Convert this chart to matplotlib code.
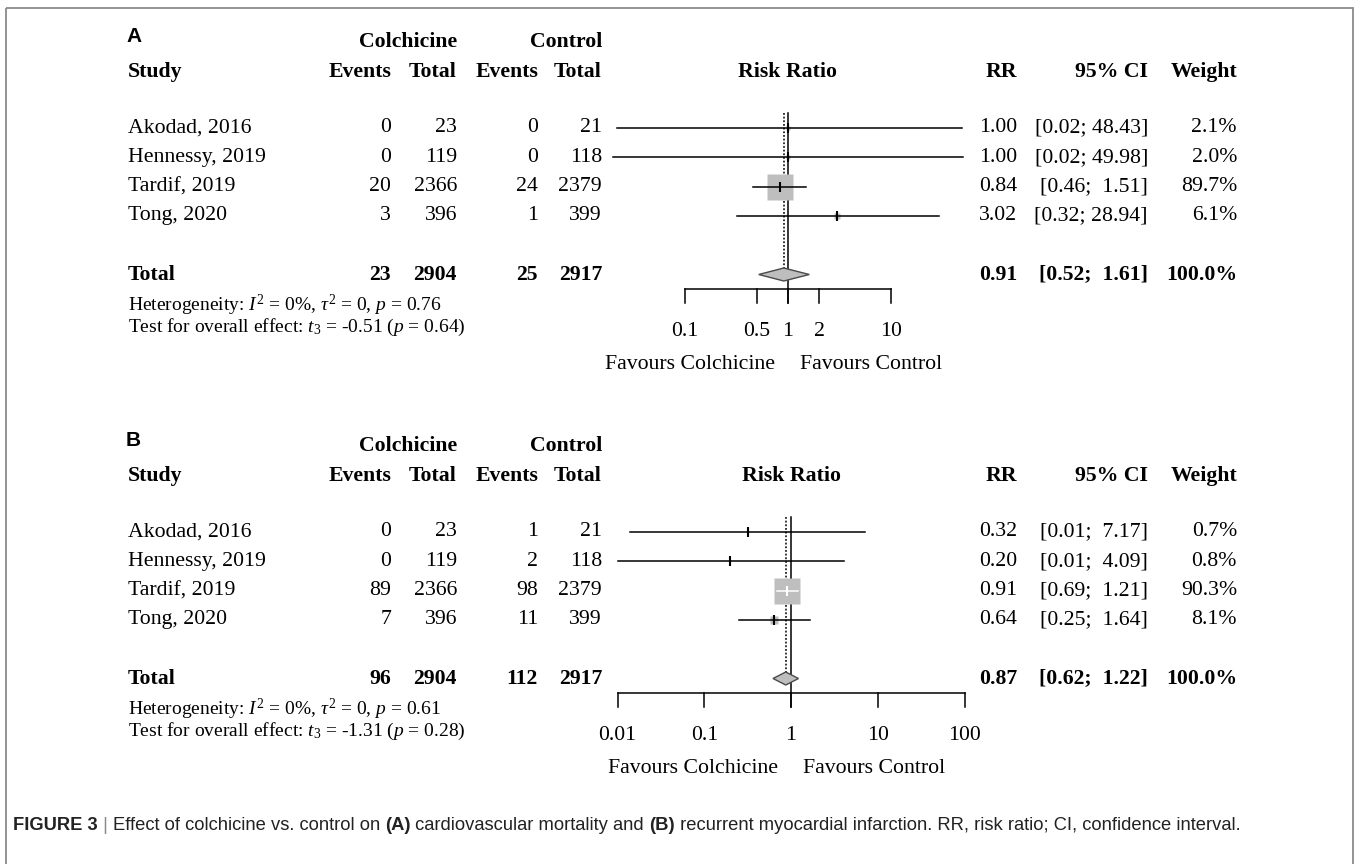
import numpy as np
import matplotlib
matplotlib.use('Agg')
import matplotlib.pyplot as plt
from matplotlib.patches import Rectangle

W, H = 1357, 864

# ---- data ----
studies = ['Akodad, 2016', 'Hennessy, 2019', 'Tardif, 2019', 'Tong, 2020']
n_colch = [23, 119, 2366, 396]
n_ctrl = [21, 118, 2379, 399]

# (A) cardiovascular mortality
a_ev_colch = [0, 0, 20, 3]
a_ev_ctrl = [0, 0, 24, 1]
a_rr = [1.00, 1.00, 0.84, 3.02]
a_lo = [0.022, 0.02, 0.46, 0.32]
a_hi = [48.43, 49.98, 1.51, 28.94]
a_weight = [2.1, 2.0, 89.7, 6.1]
a_total = [23, 2904, 25, 2917]
a_pooled = [0.91, 0.52, 1.61]
a_het = r'Heterogeneity: $I^2$ = 0%, $\tau^2$ = 0, $p$ = 0.76'
a_test = r'Test for overall effect: $t_3$ = -0.51 ($p$ = 0.64)'
a_ticks = [0.1, 0.5, 1, 2, 10]
a_ticklabels = ['0.1', '0.5', '1', '2', '10']

# (B) recurrent myocardial infarction
b_ev_colch = [0, 0, 89, 7]
b_ev_ctrl = [1, 2, 98, 11]
b_rr = [0.32, 0.20, 0.91, 0.64]
b_lo = [0.014, 0.01, 0.69, 0.25]
b_hi = [7.17, 4.09, 1.21, 1.64]
b_weight = [0.7, 0.8, 90.3, 8.1]
b_total = [96, 2904, 112, 2917]
b_pooled = [0.87, 0.62, 1.22]
b_het = r'Heterogeneity: $I^2$ = 0%, $\tau^2$ = 0, $p$ = 0.61'
b_test = r'Test for overall effect: $t_3$ = -1.31 ($p$ = 0.28)'
b_ticks = [0.01, 0.1, 1, 10, 100]
b_ticklabels = ['0.01', '0.1', '1', '10', '100']

caption = [('FIGURE 3', True), (' | ', False),
           ('Effect of colchicine vs. control on ', False), ('(A)', True),
           (' cardiovascular mortality and ', False), ('(B)', True),
           (' recurrent myocardial infarction. RR, risk ratio; CI, confidence interval.', False)]

# ---- style ----
plt.rcParams['font.family'] = ['Liberation Serif', 'DejaVu Serif']
plt.rcParams['mathtext.fontset'] = 'custom'
plt.rcParams['mathtext.rm'] = 'Liberation Serif'
plt.rcParams['mathtext.it'] = 'Liberation Serif:italic'
FS = 15.7
FS_SMALL = 14
GREY = '#BEBEBE'

fig = plt.figure(figsize=(W / 100, H / 100), dpi=100)
bg = fig.add_axes([0, 0, 1, 1])
bg.set_xlim(0, W)
bg.set_ylim(H, 0)
bg.axis('off')
bg.add_patch(Rectangle((6, 8), 1347, 880, fill=False, edgecolor='#8a8a8a', lw=1.3))

COL_X = {'study': 128, 'ev1': 391, 'n1': 457, 'ev2': 538, 'n2': 602,
         'rr': 1017, 'ci': 1148, 'w': 1237}


def txt(x, y, s, ha='left', bold=False, size=FS, **kw):
    bg.text(x, y, s, ha=ha, va='center', fontsize=size,
            fontweight='bold' if bold else 'normal', **kw)


def draw_panel(label, row0, ev_c, ev_t, rr, lo, hi, weight, total, pooled,
               het, test, ticks, ticklabels, one_px, dec_px):
    step = 29.3
    rows = [row0 + i * step for i in range(len(studies))]
    total_y = rows[-1] + 2 * step
    head_y = row0 - 86
    study_y = row0 - 56
    axis_y = total_y + 14
    tick_end = axis_y + 14
    tick_y = axis_y + 43
    fav_y = axis_y + 76

    # headers
    bg.text(COL_X['study'] - 2, head_y - 5, label, ha='left', va='center',
            fontsize=15, fontweight='bold', family='Liberation Sans')
    txt(COL_X['n1'], head_y, 'Colchicine', 'right', True)
    txt(COL_X['n2'], head_y, 'Control', 'right', True)
    txt(COL_X['study'], study_y, 'Study', bold=True)
    txt(COL_X['ev1'], study_y, 'Events', 'right', True)
    txt(COL_X['n1'], study_y, 'Total', 'right', True)
    txt(COL_X['ev2'], study_y, 'Events', 'right', True)
    txt(COL_X['n2'], study_y, 'Total', 'right', True)
    txt(one_px, study_y, 'Risk Ratio', 'center', True)
    txt(COL_X['rr'], study_y, 'RR', 'right', True)
    txt(COL_X['ci'], study_y, '95% CI', 'right', True)
    txt(COL_X['w'], study_y, 'Weight', 'right', True)

    for i, y in enumerate(rows):
        txt(COL_X['study'], y, studies[i])
        txt(COL_X['ev1'], y, str(ev_c[i]), 'right')
        txt(COL_X['n1'], y, str(n_colch[i]), 'right')
        txt(COL_X['ev2'], y, str(ev_t[i]), 'right')
        txt(COL_X['n2'], y, str(n_ctrl[i]), 'right')
        txt(COL_X['rr'], y, f'{rr[i]:.2f}', 'right')
        sep = ';  ' if hi[i] < 10 else '; '
        txt(COL_X['ci'], y, f'[{lo[i]:.2f}{sep}{hi[i]:.2f}]', 'right')
        txt(COL_X['w'], y, f'{weight[i]:.1f}%', 'right')

    txt(COL_X['study'], total_y, 'Total', bold=True)
    txt(COL_X['ev1'], total_y, str(total[0]), 'right', True)
    txt(COL_X['n1'], total_y, str(total[1]), 'right', True)
    txt(COL_X['ev2'], total_y, str(total[2]), 'right', True)
    txt(COL_X['n2'], total_y, str(total[3]), 'right', True)
    txt(COL_X['rr'], total_y, f'{pooled[0]:.2f}', 'right', True)
    txt(COL_X['ci'], total_y, f'[{pooled[1]:.2f};  {pooled[2]:.2f}]', 'right', True)
    txt(COL_X['w'], total_y, '100.0%', 'right', True)
    txt(COL_X['study'], total_y + 31, het, size=FS_SMALL)
    txt(COL_X['study'], total_y + 53, test, size=FS_SMALL)

    # forest axes, y in pixel units
    x0, x1 = 600, 980
    y_top, y_bot = row0 - 25, fav_y + 15
    ax = fig.add_axes([x0 / W, 1 - y_bot / H, (x1 - x0) / W, (y_bot - y_top) / H])
    ax.set_xscale('log')
    ax.set_xlim(10 ** ((x0 - one_px) / dec_px), 10 ** ((x1 - one_px) / dec_px))
    ax.set_ylim(y_bot, y_top)
    ax.axis('off')
    ax.patch.set_alpha(0)

    line_top = row0 - 15
    ax.plot([1, 1], [line_top, tick_end], color='black', lw=1.1)
    ax.plot([pooled[0]] * 2, [line_top, total_y - 6], color='black', lw=1.1,
            linestyle=(0, (1.2, 1.2)))

    for i, y in enumerate(rows):
        side = 26 * np.sqrt(weight[i] / 90.0)
        ax.plot(rr[i], y, marker='s', ms=side * 0.72, color=GREY, mec='none', zorder=3)
        half = side / 2 + 2
        inside = (np.log10(rr[i] / lo[i]) * dec_px < half and
                  np.log10(hi[i] / rr[i]) * dec_px < half)
        col = 'white' if inside else 'black'
        ax.plot([lo[i], hi[i]], [y, y], color=col, lw=1.1, zorder=4)
        ax.plot(rr[i], y, marker='|', ms=6.5, mew=1.5, color=col, zorder=5)

    est, lo_p, hi_p = pooled
    dh = 6.5
    ax.fill([lo_p, est, hi_p, est], [total_y, total_y - dh, total_y, total_y + dh],
            facecolor=GREY, edgecolor='#4a4a4a', lw=1.0, zorder=3)

    ax.plot([ticks[0], ticks[-1]], [axis_y, axis_y], color='black', lw=1.1)
    for t, tl in zip(ticks, ticklabels):
        ax.plot([t, t], [axis_y, tick_end], color='black', lw=1.1)
        ax.text(t, tick_y, tl, ha='center', va='center', fontsize=FS)

    txt(one_px - 13, fav_y, 'Favours Colchicine', 'right')
    txt(one_px + 12, fav_y, 'Favours Control', 'left')


draw_panel('A', 128, a_ev_colch, a_ev_ctrl, a_rr, a_lo, a_hi, a_weight, a_total,
           a_pooled, a_het, a_test, a_ticks, a_ticklabels, 788, 103)
draw_panel('B', 532, b_ev_colch, b_ev_ctrl, b_rr, b_lo, b_hi, b_weight, b_total,
           b_pooled, b_het, b_test, b_ticks, b_ticklabels, 791, 86.75)

# caption with mixed bold pieces
renderer = fig.canvas.get_renderer()
cx = 13
cap_fam = ['Liberation Sans Narrow', 'Liberation Sans']
for s, b in caption:
    t = bg.text(cx, 826, s, ha='left', va='center', fontsize=13.2,
                fontweight='bold' if b else 'normal', family=cap_fam,
                color='#8a8a8a' if s.strip() == '|' else '#222222')
    cx += t.get_window_extent(renderer).width

fig.savefig('out.png', dpi=100)
